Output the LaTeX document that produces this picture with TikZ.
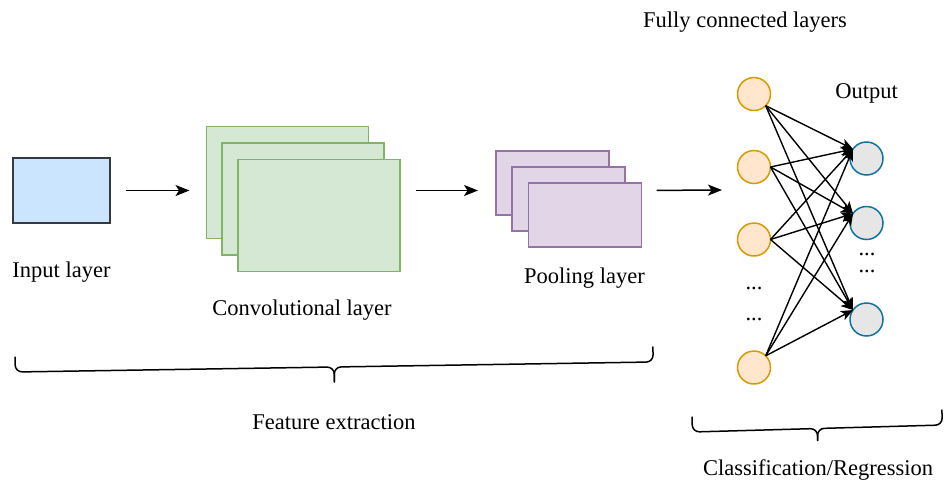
\documentclass[tikz,border=0pt]{standalone}
\usepackage{fontspec}
\setmainfont{Liberation Serif}
\usetikzlibrary{arrows.meta}
\definecolor{inpfill}{HTML}{CCE5FF}
\definecolor{inpstroke}{HTML}{36393D}
\definecolor{convfill}{HTML}{D5E8D4}
\definecolor{convstroke}{HTML}{82B366}
\definecolor{poolfill}{HTML}{E1D5E7}
\definecolor{poolstroke}{HTML}{9673A6}
\definecolor{neurfill}{HTML}{FFE6CC}
\definecolor{neurstroke}{HTML}{D79B00}
\definecolor{outfill}{HTML}{E6E6E6}
\definecolor{outstroke}{HTML}{10739E}
\begin{document}
\begin{tikzpicture}[x=1pt,y=-1pt,
  every node/.style={inner sep=0pt, outer sep=0pt},
  lbl/.style={font=\fontsize{22.5pt}{27pt}\selectfont},
  layerbox/.style={draw, line width=1.6pt, rectangle},
  inbox/.style={layerbox, fill=inpfill, draw=inpstroke, minimum width=97pt, minimum height=65pt},
  convbox/.style={layerbox, fill=convfill, draw=convstroke, minimum width=162pt, minimum height=112pt},
  poolbox/.style={layerbox, fill=poolfill, draw=poolstroke, minimum width=113pt, minimum height=64pt},
  neuron/.style={circle, draw=neurstroke, fill=neurfill, line width=1.5pt, minimum size=33pt},
  outneuron/.style={circle, draw=outstroke, fill=outfill, line width=1.5pt, minimum size=33pt},
  arr/.style={line width=1.5pt, -{Stealth[length=14pt,width=11pt,inset=3.5pt]}},
  link/.style={line width=1.4pt, -{Stealth[length=12pt,width=10pt,inset=3pt]}},
  bracket/.style={line width=1.5pt, line join=round, line cap=round, rounded corners=7pt},
]
\useasboundingbox (0,0) rectangle (944,482);

% input image
\node[inbox] (inp) at (61.5,190.5) {};
\node[lbl] (inplbl) at (61.5,272) {Input layer};

% stacked feature maps of the convolutional layer
\node[convbox] (convA) at (287.5,182.5) {};
\node[convbox] (convB) at (303,199) {};
\node[convbox] (convC) at (319,215.5) {};
\node[lbl] (convlbl) at (302,310) {Convolutional layer};

% stacked pooled maps
\node[poolbox] (poolA) at (552.5,183) {};
\node[poolbox] (poolB) at (568.5,199) {};
\node[poolbox] (poolC) at (585,215) {};
\node[lbl] (poollbl) at (584.5,278.5) {Pooling layer};

% flow arrows between stages
\coordinate (fcin) at (722,190);
\draw[arr, shorten <=16pt, shorten >=17pt] (inp.east) -- (inp.east -| convA.west);
\draw[arr, shorten <=16pt, shorten >=18pt] (convC.east |- inp.east) -- (inp.east -| poolA.west);
\draw[arr, shorten <=15pt] (poolC.east |- inp.east) -- (fcin);

% fully connected part
\node[lbl] (fclbl) at (745,22) {Fully connected layers};
\node[lbl] (outlbl) at (866.5,93) {Output};

\node[neuron] (i1) at (754,94) {};
\node[neuron] (i2) at (754,167) {};
\node[neuron] (i3) at (754,239.5) {};
\node[neuron] (i4) at (754,367.5) {};
\node[lbl, anchor=base] (idotsA) at (754,289) {...};
\node[lbl, anchor=base] (idotsB) at (754,320) {...};

\node[outneuron] (o1) at (866.5,158.5) {};
\node[outneuron] (o2) at (866.5,223) {};
\node[outneuron] (o3) at (866.5,319.5) {};
\node[font=\fontsize{22.5pt}{17pt}\selectfont, align=center, anchor=base] (odots) at (867,272) {...\\...};

\foreach \s/\a in {i1/south east, i2/east, i3/east, i4/north east}
  \foreach \t in {o1,o2,o3}
    \draw[link] (\s.\a) -- (\t.145);

% curly brackets grouping the stages
\begin{scope}[shift={(15,357)}, rotate=0.9]
  \draw[bracket] (0,0) -- (0,15) -- (319,15) -- (319,30);
  \draw[bracket] (638,0) -- (638,15) -- (319,15) -- (319,30);
\end{scope}
\node[lbl] (featlbl) at (334,422.5) {Feature extraction};

\begin{scope}[shift={(692,417)}, rotate=1.6]
  \draw[bracket] (0,0) -- (0,15) -- (125,15) -- (125,27);
  \draw[bracket] (250,0) -- (250,15) -- (125,15) -- (125,27);
\end{scope}
\node[lbl] (clslbl) at (818,470) {Classification/Regression};
\end{tikzpicture}
\end{document}
